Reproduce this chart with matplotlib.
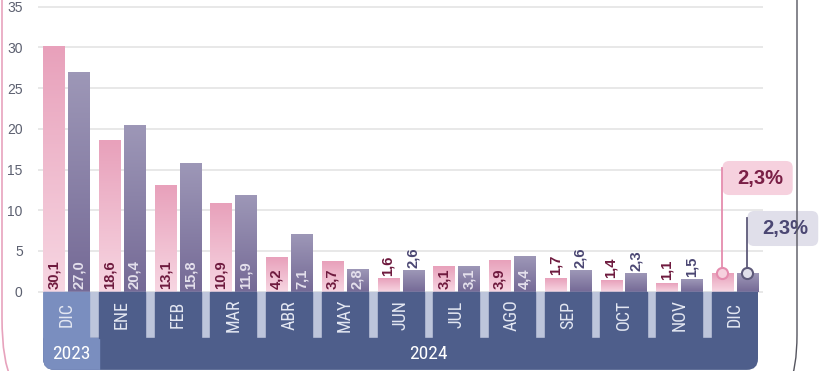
import matplotlib
matplotlib.use('Agg')
import matplotlib.pyplot as plt
import numpy as np
from matplotlib.patches import Rectangle, FancyBboxPatch, PathPatch
from matplotlib.path import Path
from matplotlib.colors import LinearSegmentedColormap
from matplotlib.transforms import Affine2D

# datos
meses = ['DIC', 'ENE', 'FEB', 'MAR', 'ABR', 'MAY', 'JUN', 'JUL', 'AGO', 'SEP', 'OCT', 'NOV', 'DIC']
anios = ['2023', '2024']
serie_rosa = [30.1, 18.6, 13.1, 10.9, 4.2, 3.7, 1.6, 3.1, 3.9, 1.7, 1.4, 1.1, 2.3]
serie_gris = [27.0, 20.4, 15.8, 11.9, 7.1, 2.8, 2.6, 3.1, 4.4, 2.6, 2.3, 1.5, 2.3]
ultimo_rosa = '2,3%'
ultimo_gris = '2,3%'

narrow = ['Liberation Sans Narrow', 'Roboto Condensed', 'DejaVu Sans']
plt.rcParams['font.family'] = ['Liberation Sans', 'DejaVu Sans']

fig = plt.figure(figsize=(8.25, 3.71), dpi=100)
fig.patch.set_facecolor('white')
ax = fig.add_axes([38/825, 0, 725/825, 1])

n = len(meses)
x = np.arange(n)
ancho = 0.377
desp = 0.224

def etiqueta(v):
    return ('%.1f' % v).replace('.', ',')

def degradado(rect, c_top, c_bot):
    x0, y0 = rect.get_x(), rect.get_y()
    w, h = rect.get_width(), rect.get_height()
    cmap = LinearSegmentedColormap.from_list('g', [c_bot, c_top])
    g = np.linspace(0, 1, 64).reshape(-1, 1)
    ax.imshow(g, cmap=cmap, extent=[x0, x0 + w, y0, y0 + h], origin='lower',
              aspect='auto', zorder=2, interpolation='bilinear')

b1 = ax.bar(x - desp, serie_rosa, ancho, color='none', zorder=2)
b2 = ax.bar(x + desp, serie_gris, ancho, color='none', zorder=2)
for r in b1:
    degradado(r, '#e8a1bb', '#f7d6e2')
for r in b2:
    degradado(r, '#9d97b7', '#756a96')

# etiquetas de valores (la ultima barra lleva recuadro)
for i in range(n - 1):
    for v, xx, c_in, c_out in [(serie_rosa[i], x[i] - desp, '#6e1a3e', '#6e1a3e'),
                               (serie_gris[i], x[i] + desp, '#e4e0ec', '#4b4773')]:
        if v >= 2.7:
            ax.text(xx, 0.3, etiqueta(v), rotation=90, ha='center', va='bottom',
                    fontsize=10.6, fontweight='bold', color=c_in, zorder=4)
        else:
            ax.text(xx, v + 0.3, etiqueta(v), rotation=90, ha='center', va='bottom',
                    fontsize=10.6, fontweight='bold', color=c_out, zorder=4)

# banda de meses y anios
y_mes = -5.69
y_fin = -9.6
celda = 0.413
x0, x1 = x[0] - celda, x[-1] + celda
asp = 55.73 / 8.143
clip = FancyBboxPatch((x0, y_fin), x1 - x0, 5 - y_fin,
                      boxstyle='round,pad=0,rounding_size=0.2', mutation_aspect=asp,
                      transform=ax.transData, facecolor='none', edgecolor='none')
ax.add_patch(clip)
oscuro = '#4e5e8b'
claro = '#7a8ebf'
parches = [Rectangle((x0, y_mes), x1 - x0, -y_mes, color='#bdc5db'),
           Rectangle((x0, y_fin), x1 - x0, y_mes - y_fin, color=oscuro),
           Rectangle((x0, y_fin), 1.0, y_mes - y_fin, color=claro)]
for i in range(n):
    parches.append(Rectangle((x[i] - celda, y_mes), 2 * celda, -y_mes,
                             color=claro if i == 0 else oscuro))
for p in parches:
    p.set_zorder(3)
    ax.add_patch(p)
    p.set_clip_path(clip)

for i, m in enumerate(meses):
    ax.text(x[i], y_mes / 2, m, rotation=90, ha='center', va='center',
            fontsize=13, color='#e3e7f2', family=narrow, zorder=5)
ax.text((x0 + x0 + 1.0) / 2, (y_mes + y_fin) / 2, anios[0], ha='center', va='center',
        fontsize=14, color='white', family=narrow, zorder=5)
ax.text((x0 + 1.0 + x1) / 2, (y_mes + y_fin) / 2, anios[1], ha='center', va='center',
        fontsize=14, color='white', family=narrow, zorder=5)

# recuadros del ultimo dato
xr = x[-1] - desp
xg = x[-1] + desp
for xx, v, y_b, y_t, w, fc, lc, tc, txt in [
        (xr, serie_rosa[-1], 11.87, 16.05, 1.26, '#f6d1de', '#e58cae', '#7a1f46', ultimo_rosa),
        (xg, serie_gris[-1], 5.61, 9.91, 1.27, '#e0dfea', '#5e5a7a', '#4b4773', ultimo_gris)]:
    box = FancyBboxPatch((xx, y_b), w, y_t - y_b,
                         boxstyle='round,pad=0,rounding_size=0.12', mutation_aspect=asp,
                         facecolor=fc, edgecolor='none', zorder=5, clip_on=False)
    ax.add_patch(box)
    ax.plot([xx, xx], [v, y_t - 0.8], color=lc, lw=1.3, zorder=6, clip_on=False)
    ax.plot(xx, v, 'o', ms=8, mfc=fc, mec=lc, mew=1.5, zorder=7, clip_on=False)
    ax.text(xx + w * 0.5 + 0.05, (y_b + y_t) / 2, txt, ha='center', va='center',
            fontsize=14.5, fontweight='bold', color=tc, zorder=8, clip_on=False)

ax.set_xlim(-0.506, 12.503)
ax.set_ylim(-9.74, 35.82)
ax.set_yticks(range(0, 36, 5))
ax.set_xticks([])
ax.grid(axis='y', color='#e6e6e6', lw=1.3)
ax.set_axisbelow(True)
ax.tick_params(axis='y', length=0, pad=11, labelsize=10, labelcolor='#5c6070')
for s in ax.spines.values():
    s.set_visible(False)

# bordes del contenedor
px = Affine2D().scale(1/825, -1/371).translate(0, 1) + fig.transFigure
izq = Path([(2, -5), (2, 318), (2, 362), (12, 380)],
           [Path.MOVETO, Path.LINETO, Path.CURVE3, Path.CURVE3])
der = Path([(797, -5), (797, 335), (797, 368), (789, 385)],
           [Path.MOVETO, Path.LINETO, Path.CURVE3, Path.CURVE3])
fig.add_artist(PathPatch(izq, transform=px, fill=False, edgecolor='#e7a3bd', lw=1.2))
fig.add_artist(PathPatch(der, transform=px, fill=False, edgecolor='#55555f', lw=1.0))

fig.savefig('out.png', dpi=100)
